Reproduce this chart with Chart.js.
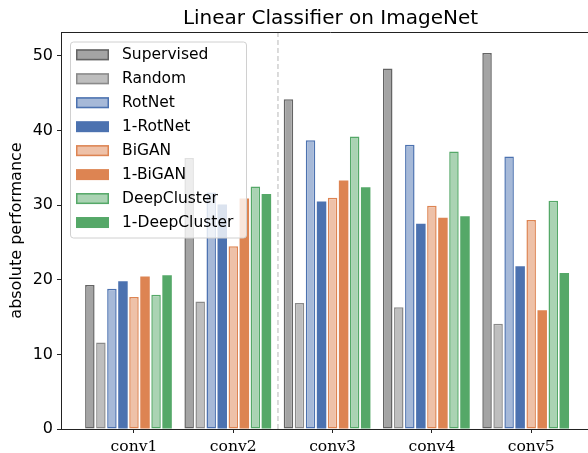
<!DOCTYPE html>
<html>
<head>
<meta charset="utf-8">
<script src="https://cdn.jsdelivr.net/npm/chart.js@4"></script>
<style>
  html, body { margin: 0; padding: 0; background: #fff; overflow: hidden; width: 588px; height: 453px; }
  canvas { display: block; }
</style>
</head>
<body>
<canvas id="chart" width="600" height="453"></canvas>
<script>
const categories = ['conv1', 'conv2', 'conv3', 'conv4', 'conv5'];
const yTicks = [0, 10, 20, 30, 40, 50];

const seriesNames = ['Supervised', 'Random', 'RotNet', '1-RotNet', 'BiGAN', '1-BiGAN', 'DeepCluster', '1-DeepCluster'];
const supervised = [19.3, 36.3, 44.2, 48.3, 50.4];
const random = [11.6, 17.1, 16.9, 16.3, 14.1];
const rotnet = [18.8, 31.7, 38.7, 38.1, 36.5];
const rotnet1 = [19.8, 30.1, 30.5, 27.5, 21.8];
const bigan = [17.7, 24.5, 31.0, 29.9, 28.0];
const bigan1 = [20.45, 30.9, 33.3, 28.3, 15.9];
const deepcluster = [18.0, 32.5, 39.2, 37.2, 30.6];
const deepcluster1 = [20.6, 31.5, 32.4, 28.5, 20.9];

const seriesValues = [supervised, random, rotnet, rotnet1, bigan, bigan1, deepcluster, deepcluster1];
const fills = ['#a4a4a4', '#bebebe', '#a6b9d8', '#4c72b0', '#eec1a8', '#dd8452', '#aad3b3', '#55a868'];
const edges = ['#646464', '#8a8a8a', '#4c72b0', '#4c72b0', '#dd8452', '#dd8452', '#55a868', '#55a868'];
const outlined = [true, true, true, false, true, false, true, false];

const datasets = seriesNames.map((name, i) => ({
    label: name,
    data: seriesValues[i].map((v, j) => ({ x: j, y: v })),
    backgroundColor: fills[i],
    borderColor: edges[i],
    borderWidth: outlined[i] ? 1.5 : 0,
    borderSkipped: false
}));
// empty slot so the group is laid out like the original (BiGAN on the tick)
datasets.push({ label: '', data: [], backgroundColor: 'rgba(0,0,0,0)' });

const frame = {
    id: 'frame',
    beforeDatasetsDraw(chart) {
        const { ctx, chartArea, scales } = chart;
        const x = scales.x.getPixelForValue(1.45);
        ctx.save();
        ctx.strokeStyle = '#c4c4c4';
        ctx.lineWidth = 1.2;
        ctx.setLineDash([5, 3]);
        ctx.beginPath();
        ctx.moveTo(x, chartArea.top);
        ctx.lineTo(x, chartArea.bottom);
        ctx.stroke();
        ctx.restore();
    },
    afterDatasetsDraw(chart) {
        const { ctx, chartArea } = chart;
        ctx.save();
        ctx.strokeStyle = '#222';
        ctx.lineWidth = 1;
        ctx.beginPath();
        ctx.moveTo(chartArea.left, chartArea.top + 0.5);
        ctx.lineTo(chartArea.right, chartArea.top + 0.5);
        ctx.stroke();

        // legend box
        const bx = 70, by = 41.5, bw = 176, bh = 196;
        ctx.fillStyle = 'rgba(255,255,255,0.8)';
        ctx.strokeStyle = '#d0d0d0';
        ctx.beginPath();
        ctx.roundRect(bx + 0.5, by + 0.5, bw, bh, 3);
        ctx.fill();
        ctx.stroke();

        ctx.font = '15.5px "DejaVu Sans"';
        ctx.textBaseline = 'middle';
        chart.data.datasets.forEach((ds, i) => {
            if (!ds.label) return;
            const cy = 54.8 + i * 23.96;
            ctx.fillStyle = ds.backgroundColor;
            ctx.fillRect(76, cy - 5.5, 33, 11);
            if (ds.borderWidth) {
                ctx.strokeStyle = ds.borderColor;
                ctx.lineWidth = 1.5;
                ctx.strokeRect(76.75, cy - 4.75, 31.5, 9.5);
            }
            ctx.fillStyle = '#000';
            ctx.fillText(ds.label, 122, cy);
        });
        ctx.restore();
    }
};

new Chart(document.getElementById('chart'), {
    type: 'bar',
    data: { datasets },
    plugins: [frame],
    options: {
        responsive: false,
        animation: false,
        categoryPercentage: 1.0,
        barPercentage: 0.86,
        layout: { padding: 0 },
        plugins: {
            legend: { display: false },
            tooltip: { enabled: false },
            title: {
                display: true,
                text: 'Linear Classifier on ImageNet',
                fullSize: false,
                color: '#000',
                font: { family: 'DejaVu Sans', size: 20, weight: 'normal' },
                padding: { top: 7, bottom: 1 }
            }
        },
        scales: {
            x: {
                type: 'linear',
                offset: false,
                min: -0.735,
                max: 4.693,
                afterBuildTicks: (scale) => { scale.ticks = categories.map((_, i) => ({ value: i })); },
                afterFit: (scale) => { scale.height = 24; },
                border: { display: true, color: '#222', width: 1 },
                grid: { offset: false, drawOnChartArea: false, drawTicks: true, tickLength: 4, tickColor: '#222' },
                ticks: {
                    autoSkip: false,
                    maxRotation: 0,
                    padding: 5,
                    color: '#000',
                    font: { family: 'DejaVu Serif', size: 15.6 },
                    callback: (v) => categories[v]
                }
            },
            y: {
                min: 0,
                max: 53.2,
                afterBuildTicks: (scale) => { scale.ticks = yTicks.map(v => ({ value: v })); },
                afterFit: (scale) => { scale.width = 61; },
                border: { display: true, color: '#222', width: 1 },
                grid: { drawOnChartArea: false, drawTicks: true, tickLength: 4, tickColor: '#222' },
                ticks: {
                    padding: 4,
                    color: '#000',
                    font: { family: 'DejaVu Sans', size: 16 }
                },
                title: {
                    display: true,
                    text: 'absolute performance',
                    color: '#000',
                    font: { family: 'DejaVu Sans', size: 16 },
                    padding: { top: 7, bottom: 0 }
                }
            }
        }
    }
});
</script>
</body>
</html>
